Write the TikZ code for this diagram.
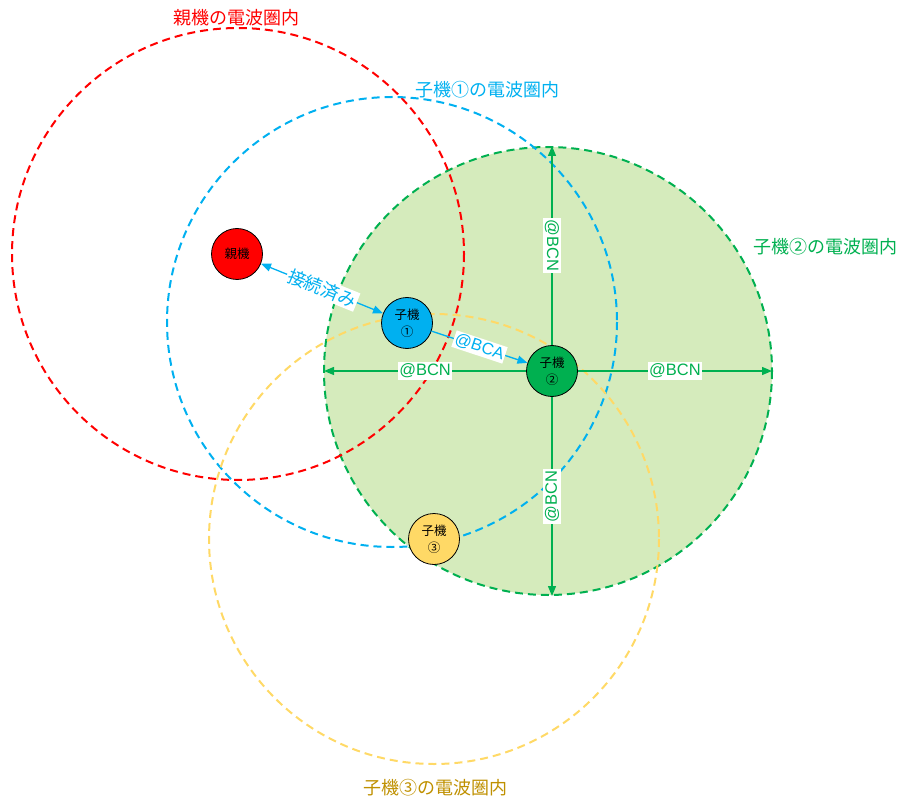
\documentclass[tikz,border=0pt]{standalone}
\usepackage{fontspec}
\setmainfont{Noto Sans CJK JP}
\newfontfamily\latinfont{Liberation Sans}
\usetikzlibrary{arrows.meta}
\definecolor{oyaRed}{RGB}{255,0,0}
\definecolor{koBlue}{RGB}{0,176,240}
\definecolor{koGreen}{RGB}{0,176,80}
\definecolor{koYellow}{RGB}{255,217,102}
\definecolor{koGold}{RGB}{191,144,0}
\definecolor{areaGreen}{RGB}{213,235,188}
\tikzset{
  radio/.style={line width=2pt, dash pattern=on 8pt off 5pt},
  unit/.style={circle, draw=black, line width=0.8pt, minimum size=51pt, inner sep=0pt, align=center, font=\fontsize{12.5}{17}\selectfont},
  arealabel/.style={font=\fontsize{18}{21}\selectfont},
  beacon/.style={line width=1.3pt, -{Triangle[length=10pt,width=8pt]}},
  tag/.style={fill=white, inner sep=1.5pt, font=\latinfont\fontsize{16.5}{18}\selectfont}
}
\begin{document}
\begin{tikzpicture}[x=1pt,y=-1pt]%
\useasboundingbox (0,0) rectangle (904,799);%
% radio ranges
\fill[areaGreen] (548,371) circle (224);%
\draw[radio, koGreen] (548,371) circle (224);%
\draw[radio, oyaRed] (238,254) circle (226);%
\draw[radio, koBlue] (392,322) circle (225);%
\draw[radio, koYellow] (434,539) circle (225);%
\node[arealabel, text=oyaRed] (lbOya) at (236,18) {親機の電波圏内};%
\node[arealabel, text=koBlue] (lbKo1) at (487,90) {子機①の電波圏内};%
\node[arealabel, text=koGreen] (lbKo2) at (825,247) {子機②の電波圏内};%
\node[arealabel, text=koGold] (lbKo3) at (435,788) {子機③の電波圏内};%
% units
\node[unit, fill=oyaRed] (oya) at (237,254) {親機};%
\node[unit, fill=koBlue] (ko1) at (407,323) {子機\\①};%
\node[unit, fill=koGreen] (ko2) at (552,371) {子機\\②};%
\node[unit, fill=koYellow] (ko3) at (434,539) {子機\\③};%
\coordinate (bcnUp) at (552,146);%
\coordinate (bcnDown) at (552,596);%
\coordinate (bcnLeft) at (324,371);%
\coordinate (bcnRight) at (772,371);%
% beacons
\draw[beacon, koGreen] (ko2) -- node[tag, text=koGreen, rotate=-90] {@BCN} (bcnUp);%
\draw[beacon, koGreen] (ko2) -- node[tag, text=koGreen, rotate=90] {@BCN} (bcnDown);%
\draw[beacon, koGreen] (ko2) -- node[tag, text=koGreen] {@BCN} (bcnLeft);%
\draw[beacon, koGreen] (ko2) -- node[tag, text=koGreen] {@BCN} (bcnRight);%
\draw[beacon, koBlue] (ko1) -- node[tag, text=koBlue, sloped] {@BCA} (ko2);%
\draw[beacon, koBlue, {Triangle[length=10pt,width=8pt]}-{Triangle[length=10pt,width=8pt]}] (oya) -- node[tag, text=koBlue, sloped, font=\fontsize{18}{21}\selectfont] {接続済み} (ko1);%
\end{tikzpicture}
\end{document}
